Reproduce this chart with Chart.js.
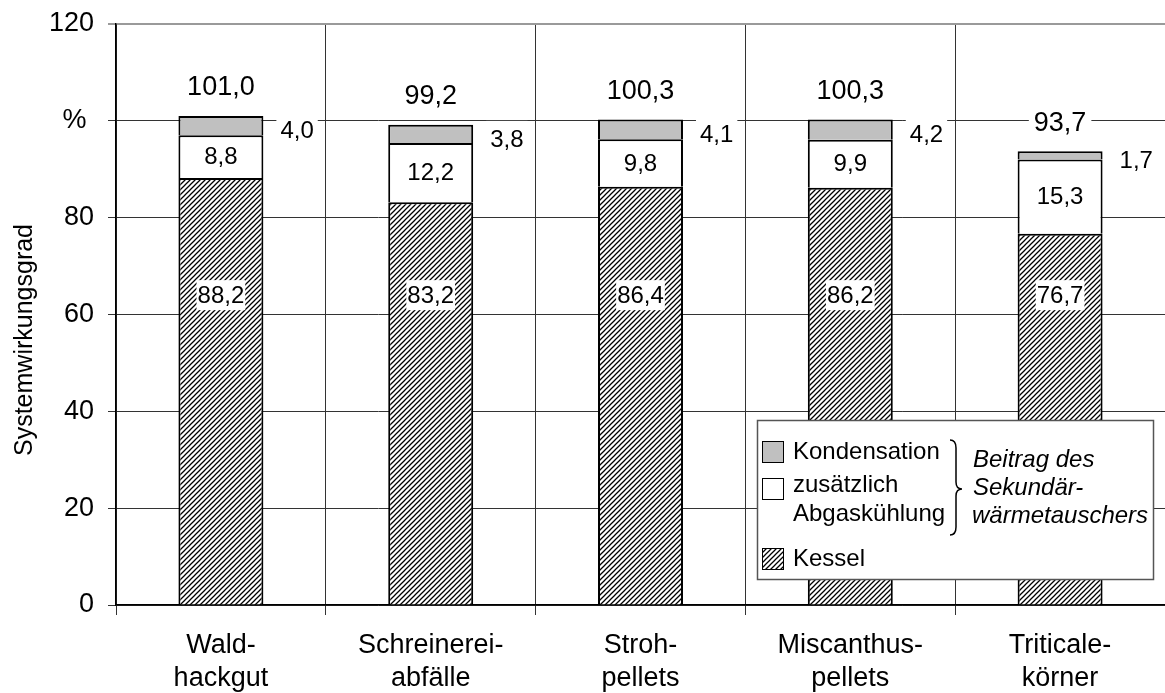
<!DOCTYPE html>
<html><head><meta charset="utf-8">
<script src="https://cdn.jsdelivr.net/npm/chart.js@4/dist/chart.umd.min.js"></script>
<style>html,body{margin:0;padding:0;background:#fff}#wrap{width:1165px;height:693px;position:relative}</style>
</head><body><div id="wrap"><canvas id="c" width="1165" height="693"></canvas></div>
<script>
const categories = [['Wald-','hackgut'],['Schreinerei-','abfälle'],['Stroh-','pellets'],['Miscanthus-','pellets'],['Triticale-','körner']];
const kessel = [88.2, 83.2, 86.4, 86.2, 76.7];
const abgaskuehlung = [8.8, 12.2, 9.8, 9.9, 15.3];
const kondensation = [4.0, 3.8, 4.1, 4.2, 1.7];
const yTicks = [0, 20, 40, 60, 80, 100, 120];
const yTickLabels = ['0', '20', '40', '60', '80', '% ', '120'];
const seriesNames = ['Kessel', 'zusätzlich Abgaskühlung', 'Kondensation'];
const braceText = ['Beitrag des', 'Sekundär-', 'wärmetauschers'];
const axisTitle = 'Systemwirkungsgrad';

const FONT = '"Liberation Sans", Arial, Helvetica, sans-serif';
const fmt = v => v.toFixed(1).replace('.', ',');

function hatch() {
  const s = 5;
  const pc = document.createElement('canvas');
  pc.width = s; pc.height = s;
  const p = pc.getContext('2d');
  p.fillStyle = '#fff'; p.fillRect(0, 0, s, s);
  p.strokeStyle = '#000'; p.lineWidth = 1.25;
  p.beginPath();
  p.moveTo(0, s); p.lineTo(s, 0);
  p.moveTo(-s / 2, s / 2); p.lineTo(s / 2, -s / 2);
  p.moveTo(s / 2, s * 1.5); p.lineTo(s * 1.5, s / 2);
  p.stroke();
  return p.createPattern(pc, 'repeat');
}
const hatchPattern = hatch();

const labelPlugin = {
  id: 'labels',
  afterDatasetsDraw(chart) {
    const ctx = chart.ctx, ys = chart.scales.y;
    const m0 = chart.getDatasetMeta(0), m1 = chart.getDatasetMeta(1), m2 = chart.getDatasetMeta(2);
    ctx.save();
    ctx.textBaseline = 'middle';
    for (let i = 0; i < categories.length; i++) {
      const b0 = m0.data[i], b1 = m1.data[i], b2 = m2.data[i];
      ctx.font = '24px ' + FONT;
      let t = fmt(kessel[i]);
      let w = ctx.measureText(t).width;
      const ky = ys.getPixelForValue(64);
      ctx.fillStyle = '#fff';
      ctx.fillRect(b0.x - w / 2 - 1, ky - 15, w + 2, 30);
      ctx.fillStyle = '#000'; ctx.textAlign = 'center';
      ctx.fillText(t, b0.x, ky + 1);
      ctx.fillText(fmt(abgaskuehlung[i]), b1.x, (b1.y + b1.base) / 2 + 1);
      const right = b2.x + b2.width / 2;
      const cy = (b2.y + b2.base) / 2 + 5;
      t = fmt(kondensation[i]); w = ctx.measureText(t).width;
      ctx.fillStyle = '#fff';
      ctx.fillRect(right + 13, cy - 18, w + 8, 36);
      ctx.fillStyle = '#000'; ctx.textAlign = 'left';
      ctx.fillText(t, right + 17, cy + 1);
      ctx.font = '27px ' + FONT;
      t = fmt(kessel[i] + abgaskuehlung[i] + kondensation[i]);
      w = ctx.measureText(t).width;
      const ty = b2.y - 29;
      ctx.fillStyle = '#fff';
      ctx.fillRect(b2.x - w / 2 - 5, ty - 15, w + 10, 30);
      ctx.fillStyle = '#000'; ctx.textAlign = 'center';
      ctx.fillText(t, b2.x, ty + 1);
    }
    ctx.restore();
  },
  afterDraw(chart) {
    const ctx = chart.ctx;
    ctx.save();
    ctx.translate(25, 340);
    ctx.rotate(-Math.PI / 2);
    ctx.font = '25px ' + FONT;
    ctx.fillStyle = '#000';
    ctx.textAlign = 'center'; ctx.textBaseline = 'middle';
    ctx.fillText(axisTitle, 0, 0);
    ctx.restore();

    ctx.save();
    ctx.fillStyle = '#fff';
    ctx.fillRect(757, 420, 396, 159);
    ctx.strokeStyle = '#555'; ctx.lineWidth = 1.5;
    ctx.strokeRect(757.5, 420.5, 396, 159);
    const sw = (y, fill) => {
      ctx.fillStyle = fill; ctx.fillRect(762, y, 21, 21);
      ctx.strokeStyle = '#000'; ctx.lineWidth = 1; ctx.strokeRect(762.5, y + 0.5, 21, 21);
    };
    sw(441, '#c0c0c0');
    sw(478, '#ffffff');
    sw(548, hatchPattern);
    ctx.fillStyle = '#000';
    ctx.font = '24px ' + FONT;
    ctx.textAlign = 'left'; ctx.textBaseline = 'middle';
    ctx.fillText(seriesNames[2], 793, 452);
    const parts = seriesNames[1].split(' ');
    ctx.fillText(parts[0], 793, 485);
    ctx.fillText(parts[1], 793, 514);
    ctx.fillText(seriesNames[0], 793, 559);
    ctx.strokeStyle = '#000'; ctx.lineWidth = 1.5;
    ctx.beginPath();
    ctx.moveTo(950, 440);
    ctx.quadraticCurveTo(956, 440, 956, 448);
    ctx.lineTo(956, 482);
    ctx.quadraticCurveTo(956, 489, 962, 489);
    ctx.quadraticCurveTo(956, 489, 956, 496);
    ctx.lineTo(956, 527);
    ctx.quadraticCurveTo(956, 535, 950, 535);
    ctx.stroke();
    ctx.font = 'italic 24px ' + FONT;
    ctx.fillText(braceText[0], 973, 460);
    ctx.fillText(braceText[1], 973, 488);
    ctx.fillText(braceText[2], 972, 516);
    ctx.restore();
  }
};

const common = { borderColor: '#000', borderWidth: 2, barPercentage: 0.405, categoryPercentage: 1 };

new Chart(document.getElementById('c'), {
  type: 'bar',
  data: {
    labels: categories,
    datasets: [
      Object.assign({ label: seriesNames[0], data: kessel, backgroundColor: hatchPattern }, common),
      Object.assign({ label: seriesNames[1], data: abgaskuehlung, backgroundColor: '#ffffff' }, common),
      Object.assign({ label: seriesNames[2], data: kondensation, backgroundColor: '#c0c0c0' }, common)
    ]
  },
  options: {
    responsive: false,
    devicePixelRatio: 1,
    animation: false,
    layout: { padding: { top: 24, right: -5, left: 0, bottom: 0 } },
    plugins: { legend: { display: false }, tooltip: { enabled: false } },
    scales: {
      x: {
        stacked: true,
        grid: { offset: true, color: '#333', lineWidth: 1, tickLength: 10 },
        border: { color: '#000', width: 1.5 },
        ticks: { color: '#000', font: { family: FONT, size: 27, lineHeight: 1.22 }, padding: 14, maxRotation: 0, autoSkip: false },
        afterFit: s => { s.height = 88; s.paddingLeft = 0; s.paddingRight = 0; }
      },
      y: {
        stacked: true, min: 0, max: 120,
        grid: {
          color: c => (c.tick && c.tick.value === 120) ? '#9a9a9a' : '#333',
          lineWidth: c => (c.tick && c.tick.value === 120) ? 2 : 1,
          tickLength: 8
        },
        border: { color: '#000', width: 1.5 },
        ticks: {
          stepSize: 20, color: '#000', padding: 14,
          font: { family: FONT, size: 27 },
          callback: v => { const k = yTicks.indexOf(v); return k >= 0 ? yTickLabels[k] : ''; }
        },
        afterFit: s => { s.width = 116; s.paddingTop = 0; s.paddingBottom = 0; }
      }
    }
  },
  plugins: [labelPlugin]
});
</script>
</body></html>
